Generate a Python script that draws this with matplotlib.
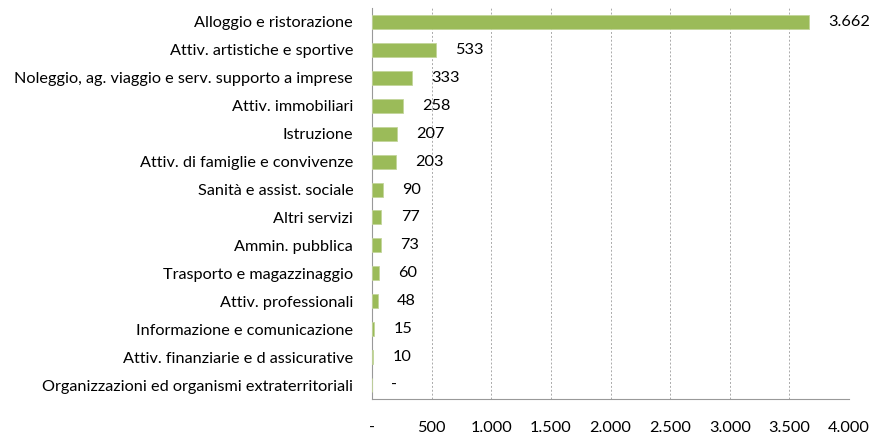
import matplotlib
matplotlib.use("Agg")
from matplotlib import pyplot as plt

# categories top to bottom
categories = [
    "Alloggio e ristorazione",
    "Attiv. artistiche e sportive",
    "Noleggio, ag. viaggio e serv. supporto a imprese",
    "Attiv. immobiliari",
    "Istruzione",
    "Attiv. di famiglie e convivenze",
    "Sanità e assist. sociale",
    "Altri servizi",
    "Ammin. pubblica",
    "Trasporto e magazzinaggio",
    "Attiv. professionali",
    "Informazione e comunicazione",
    "Attiv. finanziarie e d assicurative",
    "Organizzazioni ed organismi extraterritoriali",
]
values = [3662, 533, 333, 258, 207, 203, 90, 77, 73, 60, 48, 15, 10, 0]
xticks = [0, 500, 1000, 1500, 2000, 2500, 3000, 3500, 4000]


def fmt(v):
    if v == 0:
        return "-"
    return f"{v:,}".replace(",", ".")


plt.rcParams["font.family"] = ["Lato", "DejaVu Sans"]
plt.rcParams["font.size"] = 11.7

fig = plt.figure(figsize=(8.77, 4.36), dpi=100)
ax = fig.add_axes([372 / 877, 1 - 399 / 436, (849 - 372) / 877, (399 - 8) / 436])

pos = list(range(len(categories)))
ax.barh(pos, values, height=0.5, color="#9BBB59", edgecolor="#C3D69B", linewidth=0.6, zorder=3)
ax.set_ylim(len(categories) - 0.5, -0.5)
ax.set_xlim(0, 4000)
ax.set_yticks(pos)
ax.set_yticklabels(categories)
ax.set_xticks(xticks)
ax.set_xticklabels([fmt(t) for t in xticks])
ax.tick_params(axis="y", length=0, pad=13.5)
ax.tick_params(axis="x", length=0, pad=16)

for p, v in zip(pos, values):
    ax.annotate(fmt(v), (v, p), xytext=(14, 0), textcoords="offset points",
                va="center", ha="left")

ax.grid(axis="x", color="#AAAAAA", linestyle=(0, (2, 2)), linewidth=0.7, zorder=0)
for s in ["top", "right"]:
    ax.spines[s].set_visible(False)
ax.spines["left"].set_color("#999999")
ax.spines["bottom"].set_color("#999999")

fig.savefig("out.png", dpi=100)
